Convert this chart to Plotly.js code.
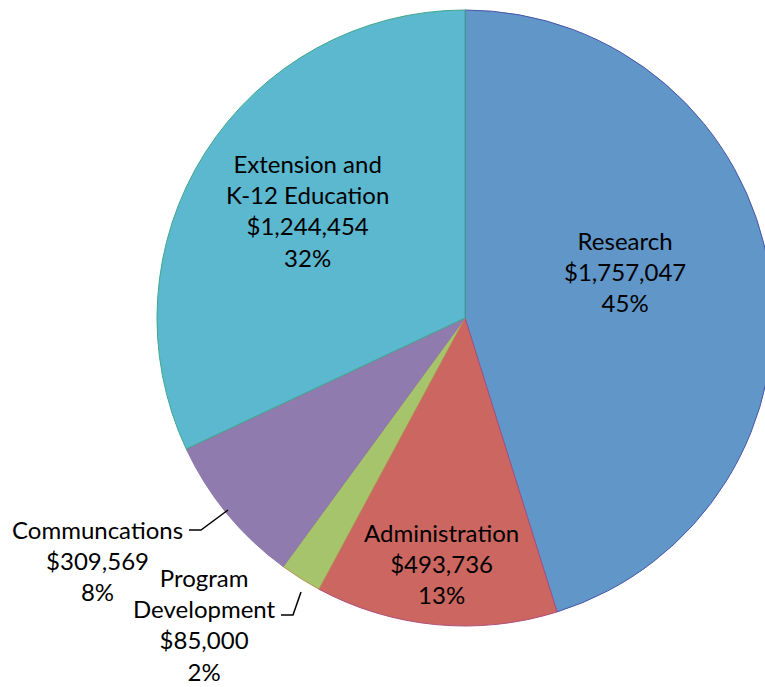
<!DOCTYPE html>
<html>
<head>
<meta charset="utf-8">
<script src="https://cdn.plot.ly/plotly-3.0.1.min.js"></script>
<style>
html,body{margin:0;padding:0;overflow:hidden;background:#fff;width:765px;height:687px;}
#chart{width:930px;height:687px;}
</style>
</head>
<body>
<div id="chart"></div>
<script>
// Data
const categories = ["Research", "Administration", "Program Development", "Communcations", "Extension and K-12 Education"];
const labelLines = ["Research", "Administration", "Program<br>Development", "Communcations", "Extension and<br>K-12 Education"];
const amounts = [1757047, 493736, 85000, 309569, 1244454];
const percentLabels = ["45%", "13%", "2%", "8%", "32%"];

// Styles
const fillColors = ["#6096C8", "#CC6660", "#A6C46C", "#907BAF", "#5CB8CF"];
const edgeColors = ["#4A55A8", "#B0507C", "#B89050", "#8A78A8", "#3FA88A"];

const W = 930, H = 687;
// label centres (pixels)
const labelPos = [[625, 271], [441, 563], [204, 624], [97, 560], [307, 210]];

function fmt(v){ return "$" + v.toLocaleString("en-US"); }

const annotations = categories.map((c, i) => ({
  x: labelPos[i][0] / W, y: 1 - labelPos[i][1] / H,
  xref: "paper", yref: "paper", showarrow: false,
  xanchor: "center", yanchor: "middle", align: "center",
  text: labelLines[i] + "<br>" + fmt(amounts[i]) + "<br>" + percentLabels[i],
  font: {family: "Lato, 'Open Sans', sans-serif", size: 24, color: "#000"}
}));

function P(x, y){ return (x / W).toFixed(5) + "," + (1 - y / H).toFixed(5); }
const shapes = [
  {type: "path", xref: "paper", yref: "paper", path: "M" + P(189, 530) + " L" + P(201, 530) + " L" + P(228, 510),
   line: {color: "#000", width: 1.5}},
  {type: "path", xref: "paper", yref: "paper", path: "M" + P(281, 615) + " L" + P(293, 615) + " L" + P(301, 592),
   line: {color: "#000", width: 1.5}}
];

const trace = {
  type: "pie",
  labels: categories,
  values: amounts,
  sort: false,
  direction: "clockwise",
  rotation: 0,
  textinfo: "none",
  hoverinfo: "label+value+percent",
  marker: {colors: fillColors, line: {color: edgeColors, width: 1}},
  domain: {x: [0, 1], y: [(H - 626) / H, (H - 10) / H]},
  showlegend: false
};

Plotly.newPlot("chart", [trace], {
  width: W, height: H,
  margin: {l: 0, r: 0, t: 0, b: 0},
  paper_bgcolor: "#fff",
  showlegend: false,
  annotations: annotations,
  shapes: shapes
}, {displayModeBar: false, staticPlot: true});
</script>
</body>
</html>
